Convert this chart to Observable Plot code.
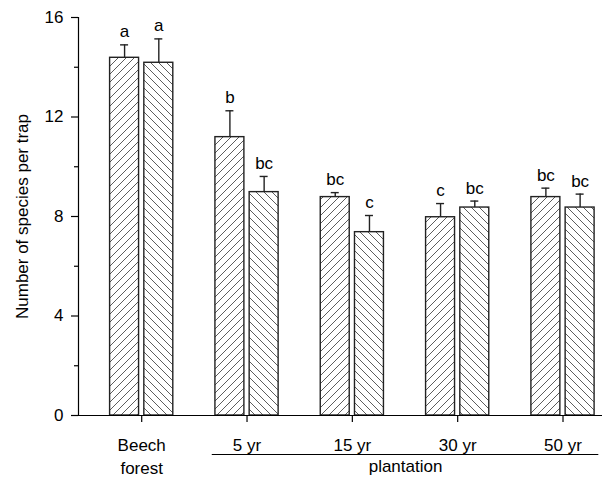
<!DOCTYPE html>
<html>
<head>
<meta charset="utf-8">
<script src="https://cdn.jsdelivr.net/npm/d3@7"></script>
<script src="https://cdn.jsdelivr.net/npm/@observablehq/plot@0.6"></script>
<style>
  html, body { margin: 0; padding: 0; background: #fff; }
  #chart svg { display: block; }
</style>
</head>
<body>
<div id="chart"></div>
<script>
// ---- data ----
const sites = ["Beech\nforest", "5 yr", "15 yr", "30 yr", "50 yr"];
const plantationSites = ["5 yr", "15 yr", "30 yr", "50 yr"];
const groupLabel = "plantation";
const series1Mean = [14.38, 11.19, 8.78, 7.97, 8.78];
const series1SE   = [0.52, 1.06, 0.18, 0.55, 0.36];
const series1Letters = ["a", "b", "bc", "c", "bc"];
const series2Mean = [14.18, 8.98, 7.37, 8.36, 8.36];
const series2SE   = [0.96, 0.63, 0.67, 0.26, 0.54];
const series2Letters = ["a", "bc", "c", "bc", "bc"];
const yMajorTicks = [0, 4, 8, 12, 16];
const yMinorTicks = [2, 6, 10, 14];
const yTitle = "Number of species per trap";

// ---- layout helpers (in x data units) ----
const xDomain = [0.4, 5.375];
const barInner = 0.025, barOuter = 0.30, capHalf = 0.038, groupPad = 0.33;
const fs = 17;

const rows = [];
sites.forEach((s, i) => {
  const c = i + 1;
  rows.push({series: 1, c, cx: c - (barInner + barOuter) / 2, x1: c - barOuter, x2: c - barInner,
             mean: series1Mean[i], top: series1Mean[i] + series1SE[i], letter: series1Letters[i]});
  rows.push({series: 2, c, cx: c + (barInner + barOuter) / 2, x1: c + barInner, x2: c + barOuter,
             mean: series2Mean[i], top: series2Mean[i] + series2SE[i], letter: series2Letters[i]});
});
const s1 = rows.filter(d => d.series === 1);
const s2 = rows.filter(d => d.series === 2);
const pFirst = sites.indexOf(plantationSites[0]) + 1;
const pLast = sites.indexOf(plantationSites[plantationSites.length - 1]) + 1;
const pSpan = [{x1: pFirst - groupPad, x2: pLast + groupPad + 0.01, xm: (pFirst + pLast) / 2 + 0.005}];

const ink = "#222";
const font = "'Liberation Sans', Arial, Helvetica, sans-serif";
const chart = Plot.plot({
  width: 604,
  height: 477,
  marginLeft: 78,
  marginRight: 2,
  marginTop: 17,
  marginBottom: 62,
  style: {fontFamily: font, fontSize: fs + "px", color: "#000", background: "#fff"},
  x: {type: "linear", domain: xDomain, axis: null},
  y: {domain: [0, 16], axis: null},
  marks: [
    Plot.rectY(s1, {x1: "x1", x2: "x2", y: "mean", fill: "url(#hatchF)", stroke: ink, strokeWidth: 1.4}),
    Plot.rectY(s2, {x1: "x1", x2: "x2", y: "mean", fill: "url(#hatchB)", stroke: ink, strokeWidth: 1.4}),
    Plot.ruleX(rows, {x: "cx", y1: "mean", y2: "top", stroke: ink, strokeWidth: 1.4}),
    Plot.ruleY(rows, {y: "top", x1: d => d.cx - capHalf, x2: d => d.cx + capHalf, stroke: ink, strokeWidth: 1.4}),
    Plot.text(rows, {x: "cx", y: "top", text: "letter", dy: -13, lineAnchor: "middle", fill: "#000", fontSize: fs, fontFamily: font}),
    Plot.ruleX([xDomain[0]], {y1: 0, y2: 16, stroke: "#000", strokeWidth: 1.2}),
    Plot.ruleY([0], {stroke: "#000", strokeWidth: 1.2}),
    Plot.axisY({ticks: yMajorTicks, tickSize: 7, tickPadding: 8, label: null, strokeWidth: 1.2, fontSize: fs, fontFamily: font}),
    Plot.axisY({ticks: yMinorTicks, tickSize: 4, tickFormat: () => "", label: null, strokeWidth: 1.2}),
    Plot.axisX({ticks: sites.map((s, i) => i + 1), tickFormat: i => sites[i - 1], tickSize: 7, tickPadding: 11, lineHeight: 1.41, label: null, strokeWidth: 1.2, fontSize: fs, fontFamily: font}),
    Plot.text([yTitle], {frameAnchor: "left", dx: -56, rotate: -90, textAnchor: "middle", lineAnchor: "middle", text: d => d, fill: "#000", fontSize: fs, fontFamily: font}),
    Plot.ruleY(pSpan, {y: () => 0, x1: "x1", x2: "x2", dy: 39, stroke: "#000", strokeWidth: 1.2, clip: false}),
    Plot.text(pSpan, {x: "xm", y: () => 0, text: () => groupLabel, dy: 44, lineAnchor: "top", fill: "#000", fontSize: fs, fontFamily: font})
  ]
});

// hatch pattern definitions
const ns = "http://www.w3.org/2000/svg";
const defs = document.createElementNS(ns, "defs");
defs.innerHTML = `
  <pattern id="hatchF" patternUnits="userSpaceOnUse" width="8" height="8">
    <rect width="8" height="8" fill="#fff"/>
    <path d="M-2,2 l4,-4 M0,8 l8,-8 M6,10 l4,-4" stroke="#333" stroke-width="0.8"/>
  </pattern>
  <pattern id="hatchB" patternUnits="userSpaceOnUse" width="8" height="8">
    <rect width="8" height="8" fill="#fff"/>
    <path d="M-2,6 l4,4 M0,0 l8,8 M6,-2 l4,4" stroke="#333" stroke-width="0.8"/>
  </pattern>`;
chart.insertBefore(defs, chart.firstChild);
document.getElementById("chart").appendChild(chart);
</script>
</body>
</html>
